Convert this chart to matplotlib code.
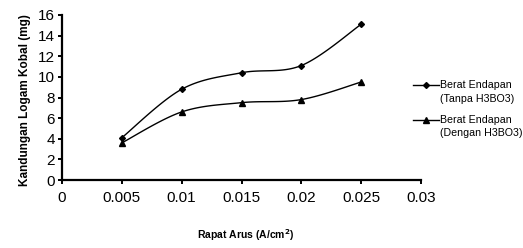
import numpy as np
import matplotlib
matplotlib.use("Agg")
import matplotlib.pyplot as plt
from matplotlib.lines import Line2D

plt.rcParams['font.family'] = ['Liberation Sans', 'DejaVu Sans']

x_vals = [0.005, 0.01, 0.015, 0.02, 0.025]
tanpa = [4.1, 8.8, 10.4, 11.1, 15.1]
dengan = [3.6, 6.6, 7.5, 7.8, 9.5]
labels = [("Berat Endapan", "(Tanpa H3BO3)"), ("Berat Endapan", "(Dengan H3BO3)")]
x_ticks = [0, 0.005, 0.01, 0.015, 0.02, 0.025, 0.03]
x_ticklabels = ["0", "0.005", "0.01", "0.015", "0.02", "0.025", "0.03"]
y_ticks = [0, 2, 4, 6, 8, 10, 12, 14, 16]


def smooth(xs, ys, n=30):
    # Catmull-Rom style smoothing of the drawn line (Excel "smoothed line")
    xs = np.asarray(xs, float); ys = np.asarray(ys, float)
    P = np.column_stack([xs, ys])
    P = np.vstack([P[0], P, P[-1]])
    out = []
    for i in range(1, len(P) - 2):
        p0, p1, p2, p3 = P[i - 1], P[i], P[i + 1], P[i + 2]
        t = np.linspace(0, 1, n)[:, None]
        seg = 0.5 * ((2 * p1) + (-p0 + p2) * t + (2 * p0 - 5 * p1 + 4 * p2 - p3) * t ** 2
                     + (-p0 + 3 * p1 - 3 * p2 + p3) * t ** 3)
        out.append(seg if i == len(P) - 3 else seg[:-1])
    s = np.vstack(out)
    return s[:, 0], s[:, 1]


W, H = 523, 248
fig = plt.figure(figsize=(W / 100, H / 100), dpi=100)
ax = fig.add_axes([62 / W, 1 - 180 / H, 359 / W, 165 / H])

styles = [('D', 3), ('^', 4.5)]
for ys, (mk, ms) in zip([tanpa, dengan], styles):
    sx, sy = smooth(x_vals, ys)
    ax.plot(sx, sy, color='black', lw=1.0)
    ax.plot(x_vals, ys, ls='none', marker=mk, ms=ms, color='black')

ax.set_xlim(0, 0.03)
ax.set_ylim(0, 16)
ax.set_xticks(x_ticks)
ax.set_xticklabels(x_ticklabels)
ax.set_yticks(y_ticks)
for s in ['top', 'right']:
    ax.spines[s].set_visible(False)
for s in ['left', 'bottom']:
    ax.spines[s].set_linewidth(1.6)
    ax.spines[s].set_color('black')
ax.tick_params(axis='both', direction='out', length=3, width=1.4, labelsize=11, pad=2)
ax.tick_params(axis='x', pad=5)

fig.text(246 / W, 1 - 235 / H, "Rapat Arus (A/cm$^\\mathbf{2}$)", fontsize=7.5,
         fontweight='bold', ha='center', va='center')
fig.text(25 / W, 1 - 100 / H, "Kandungan Logam Kobal (mg)", fontsize=8.5,
         fontweight='bold', ha='center', va='center', rotation=90)

# legend (drawn manually to keep handle aligned with first text line)
leg_rows = [85, 120]
for (mk, ms), (l1, l2), yy in zip(styles, labels, leg_rows):
    yf = 1 - yy / H
    fig.add_artist(Line2D([413 / W, 439 / W], [yf, yf], color='black', lw=1.0,
                          marker=None, transform=fig.transFigure))
    fig.add_artist(Line2D([426 / W], [yf], color='black', marker=mk, ms=ms,
                          ls='none', transform=fig.transFigure))
    fig.text(440 / W, yf, l1, fontsize=7.7, ha='left', va='center')
    fig.text(440 / W, 1 - (yy + 13.5) / H, l2, fontsize=7.7, ha='left', va='center')

fig.savefig("out.png", dpi=100)
